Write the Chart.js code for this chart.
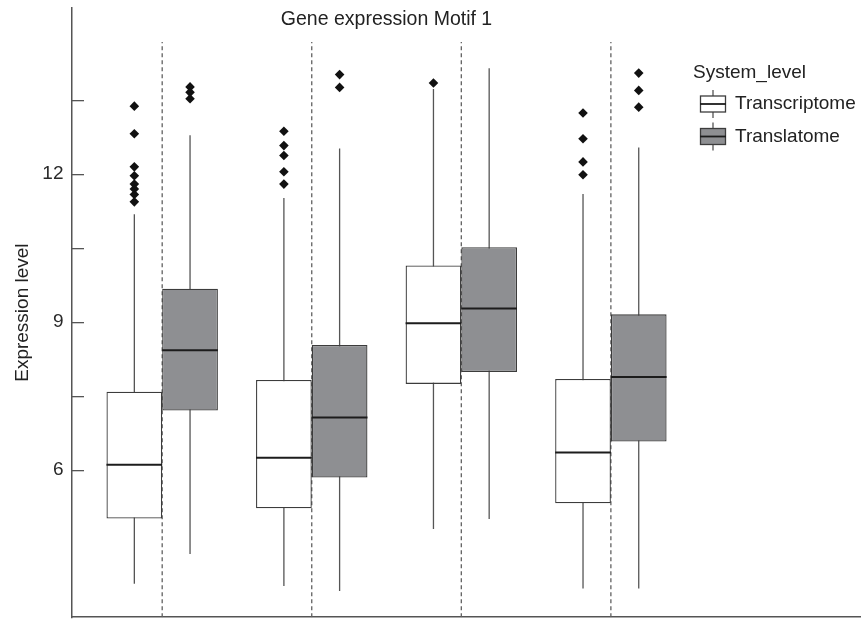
<!DOCTYPE html>
<html>
<head>
<meta charset="utf-8">
<title>Gene expression Motif 1</title>
<script src="https://cdn.jsdelivr.net/npm/chart.js@4.4.1/dist/chart.umd.min.js"></script>
<style>
  html, body { margin: 0; padding: 0; background: #ffffff; }
  canvas { display: block; }
</style>
</head>
<body>
<canvas id="chart" width="865" height="622"></canvas>
<script>
// ---- data -------------------------------------------------------------
const chartTitle = 'Gene expression Motif 1';
const yAxisTitle = 'Expression level';
const legendTitle = 'System_level';
const groupPositions = [0, 1, 2, 3];
const seriesNames = ['Transcriptome', 'Translatome'];

// five-number summaries per group
const transcriptomeLow    = [3.70, 3.65, 4.81, 3.60];
const transcriptomeQ1     = [5.02, 5.23, 7.75, 5.33];
const transcriptomeMedian = [6.11, 6.25, 8.98, 6.36];
const transcriptomeQ3     = [7.59, 7.83, 10.15, 7.85];
const transcriptomeHigh   = [11.19, 11.52, 13.73, 11.60];
const transcriptomeOutliers = [
  [13.38, 12.82, 12.15, 11.97, 11.80, 11.70, 11.59, 11.44],
  [12.87, 12.58, 12.38, 12.05, 11.80],
  [13.85],
  [13.24, 12.72, 12.25, 11.99]
];

const translatomeLow    = [4.30, 3.55, 5.01, 3.60];
const translatomeQ1     = [7.21, 5.85, 7.99, 6.58];
const translatomeMedian = [8.43, 7.07, 9.28, 7.89];
const translatomeQ3     = [9.68, 8.54, 10.52, 9.16];
const translatomeHigh   = [12.79, 12.52, 14.15, 12.54];
const translatomeOutliers = [
  [13.77, 13.66, 13.53],
  [14.02, 13.76],
  [],
  [14.05, 13.70, 13.36]
];

const yTickValues = [6, 7.5, 9, 10.5, 12, 13.5];
const yTickLabels = ['6', '', '9', '', '12', ''];
const yRange = [3.02, 15.37];
const xRange = [-0.603, 4.667];
const dividerTop = 14.68;

// ---- styling ----------------------------------------------------------
const FONT = '"Liberation Sans", Arial, Helvetica, sans-serif';
const TEXT = '#222222';
const AXIS = '#555555';
const WHISKER = '#555555';
const BOX_EDGE = '#3c3c3c';
const MEDIAN = '#1c1c1c';
const GROUP_FRACTION = 0.745;          // share of a group taken by the pair of boxes
const boxSpan = GROUP_FRACTION / 2;    // one box, in x units

const series = [
  { name: seriesNames[0], side: -1, fill: '#ffffff',
    low: transcriptomeLow, q1: transcriptomeQ1, med: transcriptomeMedian,
    q3: transcriptomeQ3, high: transcriptomeHigh, out: transcriptomeOutliers },
  { name: seriesNames[1], side: 1, fill: '#8e8f92',
    low: translatomeLow, q1: translatomeQ1, med: translatomeMedian,
    q3: translatomeQ3, high: translatomeHigh, out: translatomeOutliers }
];

const centreOf = (g, s) => g + s.side * boxSpan / 2;

const datasets = [];

// dashed separators at each group position
datasets.push({
  type: 'line',
  order: 20,
  data: groupPositions.flatMap(g => [
    { x: g, y: yRange[0] }, { x: g, y: dividerTop }, { x: g, y: null }
  ]),
  borderColor: '#606060',
  borderWidth: 1.3,
  borderDash: [4, 3],
  pointRadius: 0,
  spanGaps: false
});

series.forEach(s => {
  // whiskers (run behind the box body)
  datasets.push({
    type: 'line',
    order: 10,
    data: groupPositions.flatMap(g => [
      { x: centreOf(g, s), y: s.low[g] }, { x: centreOf(g, s), y: s.high[g] }, { x: centreOf(g, s), y: null }
    ]),
    borderColor: WHISKER,
    borderWidth: 1.3,
    pointRadius: 0,
    spanGaps: false
  });
  // box body: Q1 to Q3
  datasets.push({
    type: 'bar',
    order: 5,
    label: s.name,
    data: groupPositions.map(g => ({ x: g, y: [s.q1[g], s.q3[g]] })),
    backgroundColor: s.fill,
    borderColor: BOX_EDGE,
    borderWidth: 1.3,
    borderSkipped: false,
    categoryPercentage: GROUP_FRACTION,
    barPercentage: 1
  });
  // median bars
  datasets.push({
    type: 'line',
    order: 2,
    data: groupPositions.flatMap(g => {
      const a = s.side < 0 ? g - boxSpan : g;
      return [{ x: a, y: s.med[g] }, { x: a + boxSpan, y: s.med[g] }, { x: g, y: null }];
    }),
    borderColor: MEDIAN,
    borderWidth: 2,
    pointRadius: 0,
    spanGaps: false
  });
  // outliers
  datasets.push({
    type: 'scatter',
    order: 1,
    data: groupPositions.flatMap(g => s.out[g].map(v => ({ x: centreOf(g, s), y: v }))),
    pointStyle: 'rectRot',
    pointRadius: 4.8,
    backgroundColor: '#111111',
    borderWidth: 0
  });
});

// title and legend drawn over the plotting area
const annotations = {
  id: 'titleAndLegend',
  afterDraw(chart) {
    const ctx = chart.ctx;
    const xs = chart.scales.x;
    ctx.save();
    ctx.textBaseline = 'middle';
    ctx.fillStyle = TEXT;
    ctx.font = '19.5px ' + FONT;
    ctx.textAlign = 'center';
    ctx.fillText(chartTitle, xs.getPixelForValue((groupPositions[0] + groupPositions[groupPositions.length - 1]) / 2), 20);

    ctx.textAlign = 'left';
    ctx.font = '19px ' + FONT;
    ctx.fillText(legendTitle, 693, 73);
    series.forEach((s, i) => {
      const cy = 104 + i * 32.5;
      const kx = 700, kw = 26, kh = 16;
      ctx.strokeStyle = WHISKER;
      ctx.lineWidth = 1.3;
      ctx.beginPath();
      ctx.moveTo(kx + kw / 2, cy - 14);
      ctx.lineTo(kx + kw / 2, cy + 14);
      ctx.stroke();
      ctx.fillStyle = s.fill;
      ctx.fillRect(kx, cy - kh / 2, kw, kh);
      ctx.strokeStyle = BOX_EDGE;
      ctx.strokeRect(kx + 0.5, cy - kh / 2, kw - 1, kh);
      ctx.strokeStyle = MEDIAN;
      ctx.lineWidth = 1.8;
      ctx.beginPath();
      ctx.moveTo(kx, cy);
      ctx.lineTo(kx + kw, cy);
      ctx.stroke();
      ctx.fillStyle = TEXT;
      ctx.fillText(s.name, 735, cy);
    });
    ctx.restore();
  }
};

new Chart(document.getElementById('chart'), {
  type: 'bar',
  data: { datasets },
  plugins: [annotations],
  options: {
    responsive: false,
    animation: false,
    devicePixelRatio: 1,
    layout: { padding: { top: 8, right: 0, bottom: 1.5, left: 0 } },
    plugins: {
      legend: { display: false },
      tooltip: { enabled: false },
      title: { display: false }
    },
    scales: {
      x: {
        type: 'linear',
        min: xRange[0],
        max: xRange[1],
        offset: false,
        afterBuildTicks: scale => { scale.ticks = groupPositions.map(v => ({ value: v })); },
        afterFit: scale => {
          scale.height = 0;
          scale.paddingLeft = 0;
          scale.paddingRight = 0;
        },
        ticks: { display: false },
        grid: { display: false, drawTicks: false, drawOnChartArea: false },
        border: { display: true, color: AXIS, width: 1.5 }
      },
      y: {
        type: 'linear',
        min: yRange[0],
        max: yRange[1],
        beginAtZero: false,
        afterBuildTicks: scale => { scale.ticks = yTickValues.map(v => ({ value: v })); },
        afterFit: scale => {
          scale.width = 72;
          scale.paddingTop = 0;
          scale.paddingBottom = 0;
        },
        ticks: {
          color: '#2a2a2a',
          font: { family: FONT, size: 19 },
          padding: 20.5,
          callback: (value, index) => yTickLabels[index]
        },
        grid: {
          drawOnChartArea: false,
          drawTicks: true,
          tickLength: -12,
          color: AXIS,
          lineWidth: 1.3
        },
        border: { display: true, color: AXIS, width: 1.5 },
        title: {
          display: true,
          text: yAxisTitle,
          color: TEXT,
          font: { family: FONT, size: 19 },
          padding: { top: 11.5, bottom: 0 }
        }
      }
    }
  }
});
</script>
</body>
</html>
